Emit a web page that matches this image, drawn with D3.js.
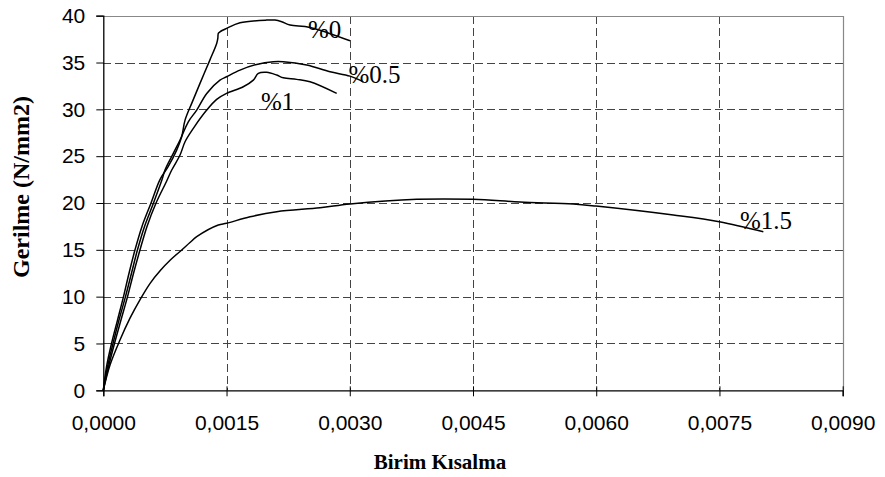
<!DOCTYPE html>
<html>
<head>
<meta charset="utf-8">
<script src="https://cdn.jsdelivr.net/npm/d3@7/dist/d3.min.js"></script>
<style>
  html, body { margin: 0; padding: 0; background: #fff; }
  svg { display: block; }
</style>
</head>
<body>
<svg id="chart" width="885" height="477"></svg>
<script>
// Stress–strain curves of concrete for four fibre ratios
const seriesNames = ["%0", "%0.5", "%1", "%1.5"];

const strain0  = [0, 0.000039, 0.0001, 0.000173, 0.000246, 0.000313, 0.000386, 0.000471, 0.000581, 0.00069, 0.000791, 0.000893, 0.000954, 0.000995, 0.001076, 0.001177, 0.001297, 0.00138, 0.001394, 0.0014, 0.00142, 0.0015, 0.001664, 0.001989, 0.00209, 0.002172, 0.002273, 0.002516, 0.003003];
const stress0  = [0, 2.5, 5, 7.5, 10, 12.5, 15, 17.5, 20, 22.5, 23.9, 25.65, 27.07, 28.85, 30.64, 32.77, 35.26, 37.04, 37.6, 38.11, 38.28, 38.64, 39.24, 39.53, 39.53, 39.35, 39.0, 38.75, 37.32];

const strain05 = [0, 0.0000511, 0.000118, 0.000191, 0.00027, 0.000343, 0.000416, 0.000502, 0.000611, 0.000715, 0.000751, 0.000852, 0.000934, 0.001035, 0.001137, 0.001259, 0.00142, 0.0015, 0.001664, 0.001867, 0.002069, 0.002191, 0.002476, 0.00276, 0.003003, 0.003165];
const stress05 = [0, 2.5, 5, 7.5, 10, 12.5, 15, 17.5, 20, 22.5, 23.52, 25.3, 26.73, 28.67, 29.92, 31.7, 33.12, 33.48, 34.19, 34.8, 35.08, 35.08, 34.73, 34.01, 33.55, 32.94];

const strain1  = [0, 0.0000633, 0.000136, 0.000215, 0.000295, 0.000368, 0.000447, 0.000532, 0.000642, 0.000769, 0.000833, 0.000934, 0.000995, 0.001096, 0.001259, 0.00138, 0.0015, 0.001704, 0.001826, 0.001887, 0.001989, 0.002111, 0.002191, 0.002354, 0.002516, 0.002841];
const stress1  = [0, 2.5, 5, 7.5, 10, 12.5, 15, 17.5, 20, 22.3, 23.52, 25.12, 26.54, 27.97, 29.92, 31.06, 31.7, 32.41, 33.12, 33.84, 33.95, 33.66, 33.37, 33.2, 32.94, 31.7];

const strain15 = [0, 0.0000816, 0.000203, 0.000325, 0.000451, 0.000572, 0.000694, 0.000816, 0.000954, 0.001055, 0.001137, 0.0014, 0.0015, 0.001786, 0.002111, 0.002638, 0.003003, 0.003815, 0.004504, 0.005072, 0.005721, 0.005998, 0.006939, 0.007498, 0.008034];
const stress15 = [0, 2.7, 5.37, 7.7, 9.74, 11.45, 12.79, 13.91, 14.98, 15.78, 16.4, 17.65, 17.83, 18.53, 19.07, 19.49, 19.89, 20.39, 20.39, 20.1, 19.89, 19.67, 18.71, 18.0, 16.93];

const xTicks = [0, 0.0015, 0.003, 0.0045, 0.006, 0.0075, 0.009];
const yTicks = [0, 5, 10, 15, 20, 25, 30, 35, 40];
const xTitle = "Birim Kısalma";
const yTitle = "Gerilme (N/mm2)";

const series = [
  { name: seriesNames[0], xs: strain0,  ys: stress0  },
  { name: seriesNames[1], xs: strain05, ys: stress05 },
  { name: seriesNames[2], xs: strain1,  ys: stress1  },
  { name: seriesNames[3], xs: strain15, ys: stress15 }
];

// where each series name is written, in data units
const labelAt = {
  "%0":   [0.002492, 37.6],
  "%0.5": [0.002985, 32.8],
  "%1":   [0.00192,  29.9],
  "%1.5": [0.00775,  17.2]
};

const svg = d3.select("#chart");
const plotL = 103.3, plotR = 842.7, plotT = 15.7, plotB = 390.3;

const x = d3.scaleLinear().domain([0, 0.009]).range([plotL, plotR]);
const y = d3.scaleLinear().domain([0, 40]).range([plotB, plotT]);

const fmtX = v => d3.format(".4f")(v).replace(".", ",");

// dashed grid
const grid = svg.append("g").attr("stroke", "#444").attr("stroke-width", 1)
  .attr("stroke-dasharray", "8,4").attr("shape-rendering", "crispEdges");
grid.selectAll(".gy").data(yTicks.filter(v => v > 0 && v < 40)).join("line")
  .attr("class", "gy")
  .attr("x1", plotL).attr("x2", plotR)
  .attr("y1", d => Math.round(y(d)) + 0.5).attr("y2", d => Math.round(y(d)) + 0.5);
grid.selectAll(".gx").data(xTicks.filter(v => v > 0 && v < 0.009)).join("line")
  .attr("class", "gx")
  .attr("y1", plotT).attr("y2", plotB)
  .attr("x1", d => Math.round(x(d)) + 0.5).attr("x2", d => Math.round(x(d)) + 0.5);

// plot frame: top and right edges
svg.append("path")
  .attr("d", `M${plotL},${Math.round(plotT) + 0.5}H${Math.round(plotR) + 0.5}V${plotB}`)
  .attr("fill", "none").attr("stroke", "#888").attr("stroke-width", 1.2);

// axes
const xAxis = d3.axisBottom(x).tickValues(xTicks).tickFormat(fmtX).tickSizeOuter(0).tickSize(6).tickPadding(18.5);
const yAxis = d3.axisLeft(y).tickValues(yTicks).tickSizeOuter(0).tickSize(7).tickPadding(11);

const gx = svg.append("g").attr("transform", `translate(0,${plotB})`).call(xAxis);
const gy = svg.append("g").attr("transform", `translate(${plotL},0)`).call(yAxis);

[gx, gy].forEach(g => {
  g.select(".domain").attr("stroke", "#000").attr("stroke-width", 1.3);
  g.selectAll(".tick line").attr("stroke", "#000").attr("stroke-width", 1);
  g.selectAll("text").attr("font-family", "'Liberation Sans', Arial, sans-serif")
    .attr("font-size", 21).attr("fill", "#000");
});
// x ticks cross the axis line
gx.selectAll(".tick line").attr("y1", -4).attr("y2", 6);

// curves
const line = d3.line().x(d => x(d[0])).y(d => y(d[1])).curve(d3.curveCatmullRom.alpha(0.5));
svg.append("g").selectAll("path").data(series).join("path")
  .attr("d", s => line(s.xs.map((v, i) => [v, s.ys[i]])))
  .attr("fill", "none").attr("stroke", "#000").attr("stroke-width", 1.5)
  .attr("stroke-linejoin", "round");

// series labels
svg.append("g").selectAll("text").data(series).join("text")
  .attr("x", s => x(labelAt[s.name][0]))
  .attr("y", s => y(labelAt[s.name][1]))
  .attr("font-family", "'Liberation Serif', 'Times New Roman', serif")
  .attr("font-size", 25).attr("fill", "#000")
  .text(s => s.name);

// axis titles
svg.append("text")
  .attr("x", 440).attr("y", 469).attr("text-anchor", "middle")
  .attr("font-family", "'Liberation Serif', 'Times New Roman', serif")
  .attr("font-weight", "bold").attr("font-size", 21).attr("fill", "#000")
  .text(xTitle);

svg.append("text")
  .attr("transform", "translate(29,187) rotate(-90)").attr("text-anchor", "middle")
  .attr("font-family", "'Liberation Serif', 'Times New Roman', serif")
  .attr("font-weight", "bold").attr("font-size", 24).attr("fill", "#000")
  .text(yTitle);
</script>
</body>
</html>
